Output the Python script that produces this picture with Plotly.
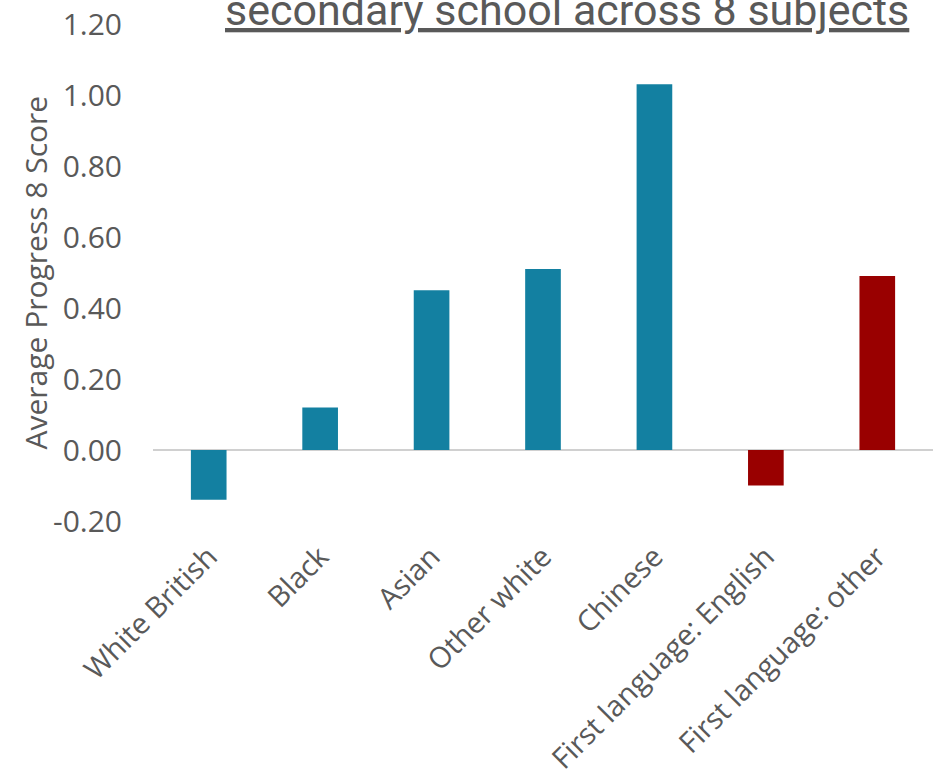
import plotly.graph_objects as go

categories = ["White British", "Black", "Asian", "Other white", "Chinese",
              "First language: English", "First language: other"]
scores = [-0.14, 0.12, 0.45, 0.51, 1.03, -0.10, 0.49]
bar_colors = ["#1380A1"] * 5 + ["#990000"] * 2

y_ticks = [-0.2, 0.0, 0.2, 0.4, 0.6, 0.8, 1.0, 1.2]
y_tick_labels = ["-0.20", "0.00", "0.20", "0.40", "0.60", "0.80", "1.00", "1.20"]

title_text = "secondary school across 8 subjects"
y_title = "Average Progress 8 Score"

fig = go.Figure()
fig.add_trace(go.Bar(
    x=categories,
    y=scores,
    marker=dict(color=bar_colors, line=dict(width=0)),
    showlegend=False
))

# title sits partly above the top edge, as in the source image
fig.add_annotation(
    text="<u>" + title_text + "</u>",
    xref="paper", yref="paper",
    x=0.531, y=1, xanchor="center", yanchor="bottom",
    yshift=-13,
    showarrow=False,
    font=dict(family="Roboto", size=43, color="#595959")
)

# y axis title as annotation so it can sit close to the edge
fig.add_annotation(
    text=y_title,
    xref="paper", yref="paper",
    x=0, y=0.5, xanchor="center", yanchor="middle",
    xshift=-118,
    textangle=-90,
    showarrow=False,
    font=dict(family="Open Sans", size=30, color="#595959")
)

fig.update_layout(
    width=943,
    height=782,
    paper_bgcolor="white",
    plot_bgcolor="white",
    font=dict(family="Open Sans", color="#595959"),
    bargap=0.68,
    margin=dict(l=153, r=10, t=24, b=261, autoexpand=False),
    xaxis=dict(
        showgrid=False,
        showline=False,
        zeroline=False,
        automargin=False,
        tickangle=-45,
        ticklabelstandoff=12,
        tickfont=dict(size=29, color="#595959"),
        ticks=""
    ),
    yaxis=dict(
        range=[-0.2, 1.2],
        tickvals=y_ticks,
        ticktext=y_tick_labels,
        showgrid=False,
        zeroline=True,
        zerolinecolor="#d0d0d0",
        zerolinewidth=2,
        showline=False,
        automargin=False,
        ticklabelstandoff=30,
        ticklabeloverflow="allow",
        tickfont=dict(size=30, color="#595959")
    )
)

# drop the default page margin so the figure fills the window
fig.write_html("out.html", config={"displayModeBar": False},
               post_script="document.body.style.margin='0';")
